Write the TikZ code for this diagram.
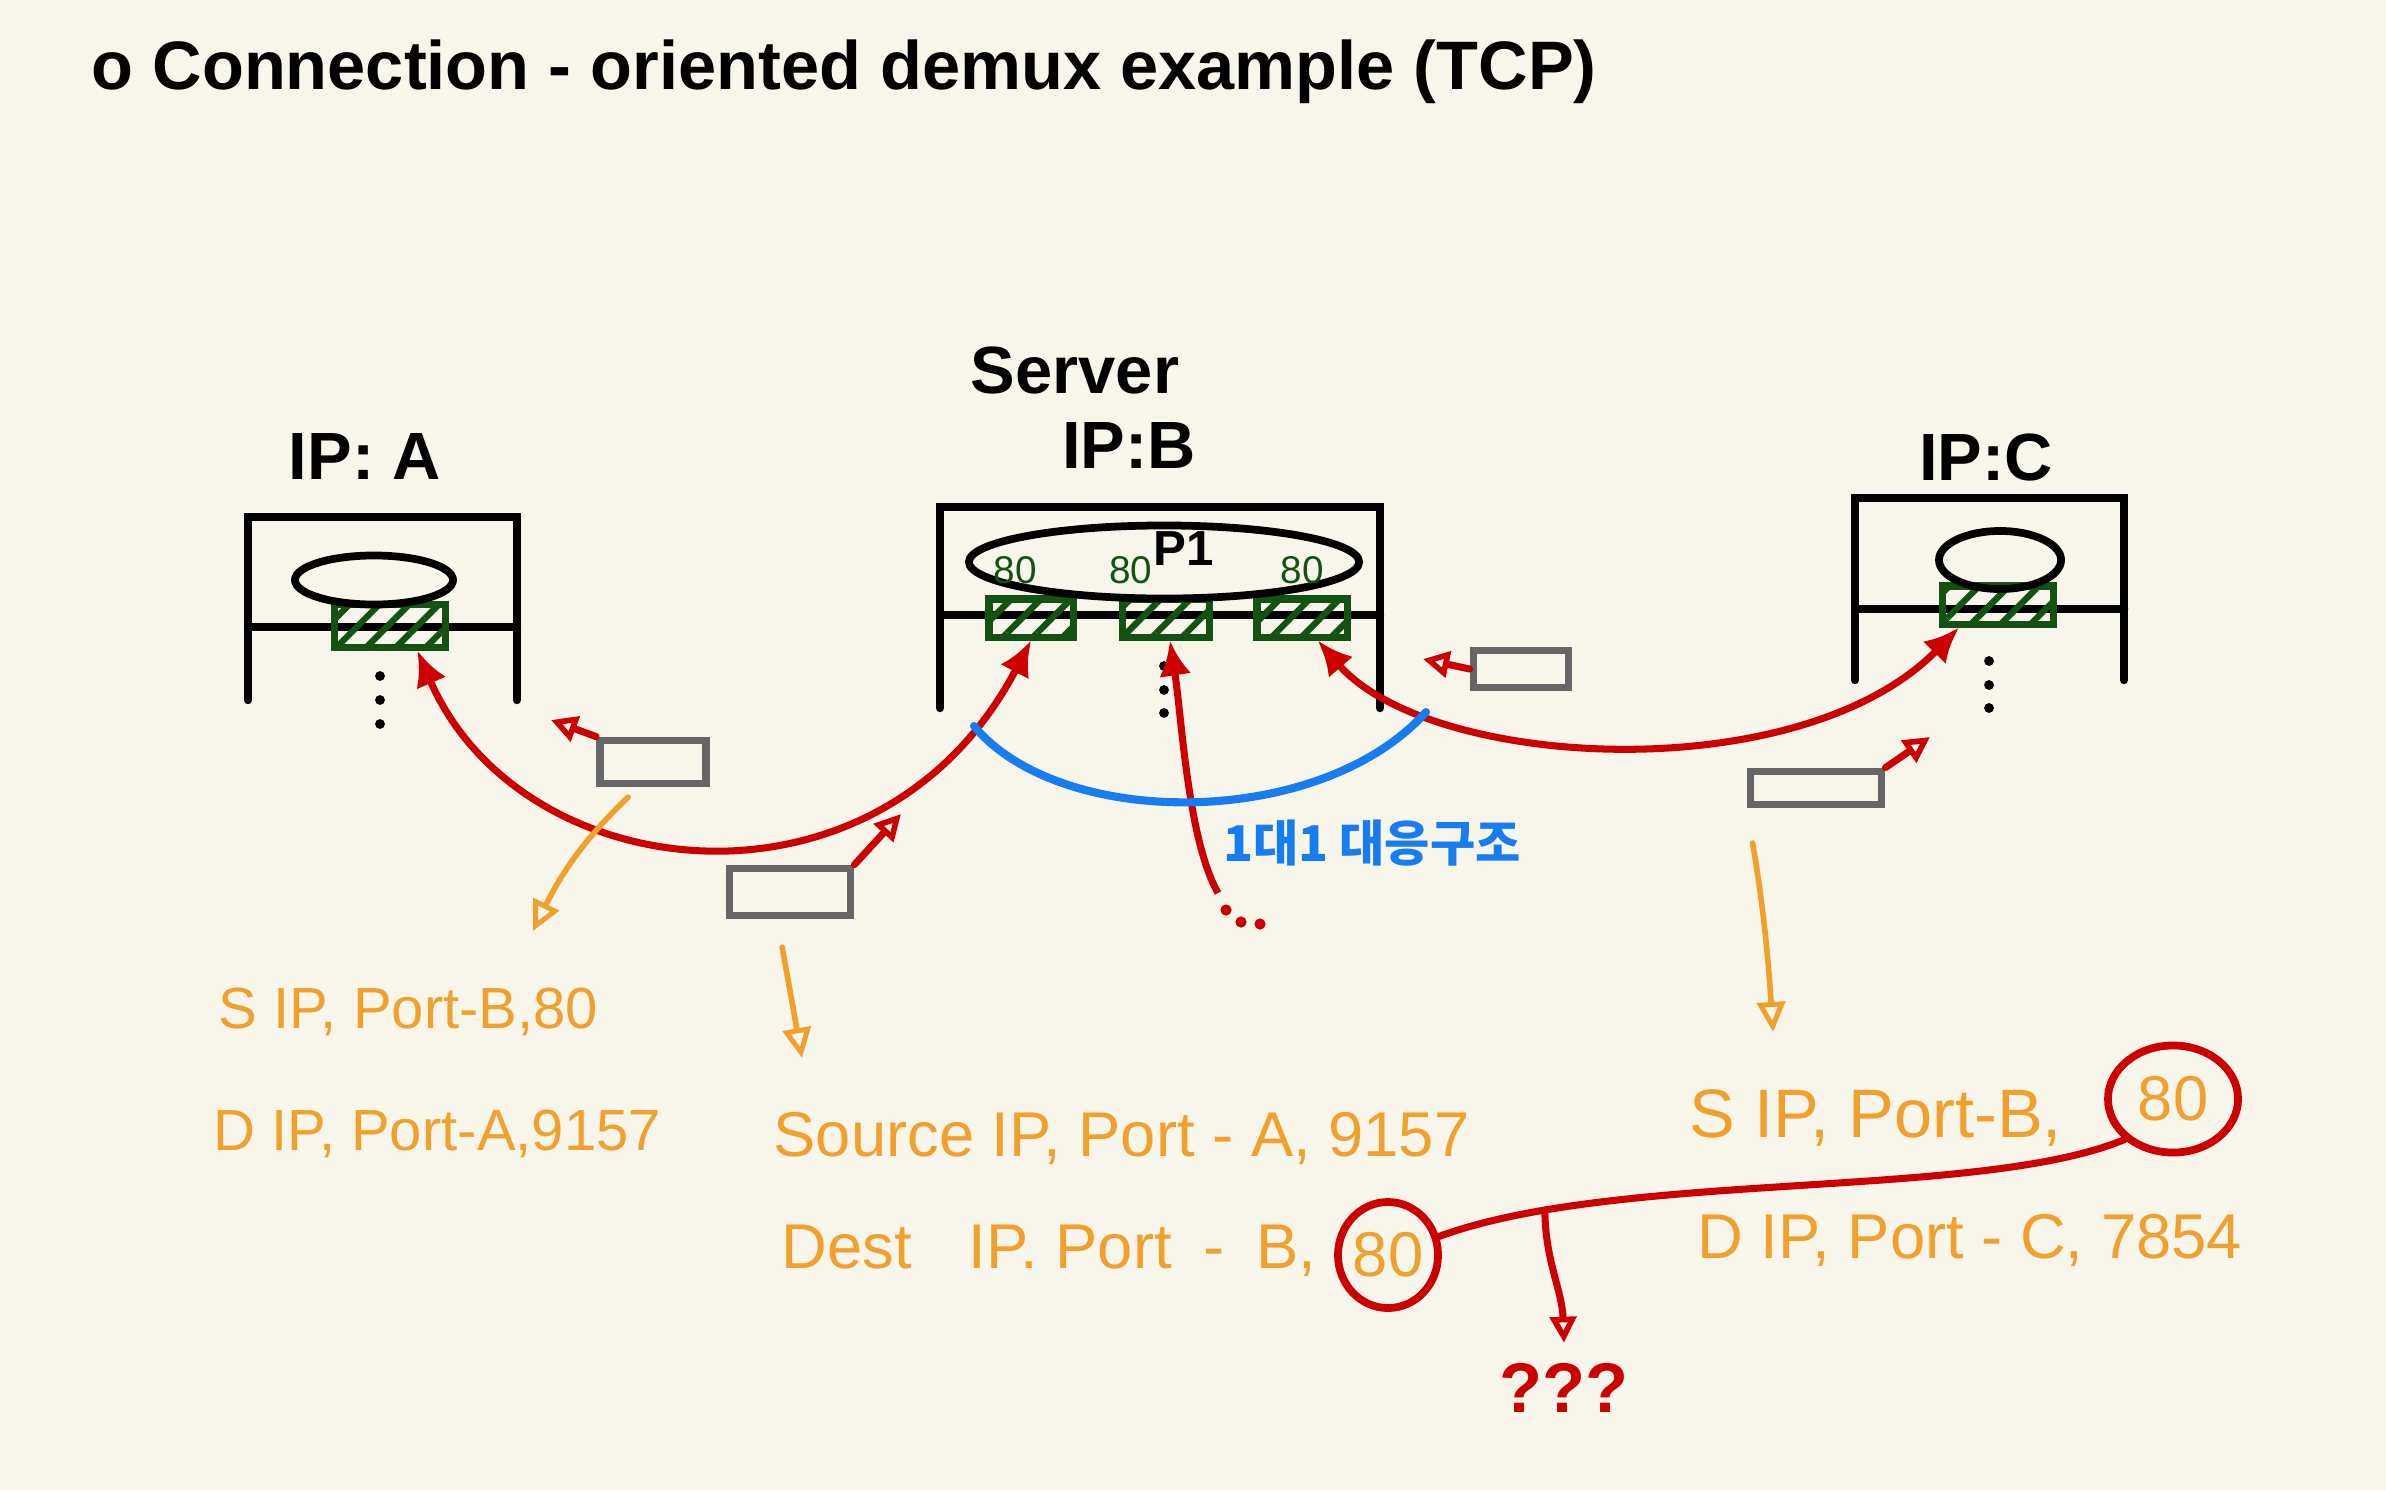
\documentclass[tikz,border=0pt]{standalone}
\usepackage{fontspec}
\setmainfont{Liberation Sans}
\newfontfamily\krfont{Noto Sans CJK KR}
\usetikzlibrary{arrows.meta,positioning,shapes.geometric,patterns.meta}
\definecolor{paper}{RGB}{248,246,234}
\definecolor{inkred}{RGB}{204,0,0}
\definecolor{inkorange}{RGB}{242,160,45}
\definecolor{inkblue}{RGB}{22,124,240}
\definecolor{inkgreen}{RGB}{20,82,20}
\definecolor{inkgray}{RGB}{102,102,102}
\tikzset{
  hostline/.style={
    line width=2.4pt,
    line cap=round,
    draw=black
  },
  procring/.style={
    ellipse,
    draw=black,
    line width=2.2pt,
    inner sep=0pt
  },
  sockbox/.style={
    rectangle,
    draw=inkgreen,
    line width=2pt,
    inner sep=0pt,
    minimum height=0.38cm,
    pattern={Lines[angle=45,distance=6pt,line width=1.8pt]},
    pattern color=inkgreen
  },
  pktbox/.style={
    rectangle,
    draw=inkgray,
    line width=2.2pt,
    inner sep=0pt
  },
  portnum/.style={
    text=inkgreen,
    inner sep=0pt,
    font=\fontsize{11}{13}\selectfont
  },
  hostlabel/.style={
    inner sep=0pt,
    font=\fontsize{19}{23}\selectfont\bfseries
  },
  hdrtext/.style={
    anchor=west,
    inner sep=0pt,
    text=inkorange,
    font=\fontsize{18}{22}\selectfont
  },
  ring80/.style={
    ellipse,
    draw=inkred,
    line width=2.2pt,
    inner sep=0pt,
    text=inkorange,
    font=\fontsize{18}{22}\selectfont
  },
  flowarrow/.style={
    {Latex[length=3.5mm,width=3.2mm]}-{Latex[length=3.5mm,width=3.2mm]},
    line width=2pt,
    draw=inkred
  },
  feedarrow/.style={
    -{Latex[length=3.5mm,width=3.2mm]},
    line width=2pt,
    draw=inkred
  },
  sendarrow/.style={
    -{Triangle[open,length=2.6mm,width=2.6mm,line width=1.6pt]},
    line width=2pt,
    line cap=round,
    draw=inkred
  },
  hintarrow/.style={
    -{Triangle[open,length=3mm,width=2.8mm,line width=1.4pt]},
    line width=1.6pt,
    line cap=round,
    draw=inkorange
  }
}

\begin{document}
\begin{tikzpicture}[x=0.01cm, y=-0.01cm]
\fill[paper] (0,0) rectangle (2386,1491);
\useasboundingbox (0,0) rectangle (2386,1491);

% title
\node[anchor=west, inner sep=0pt, font=\fontsize{19.5}{23}\selectfont\bfseries] (title) at (91,72)
  {o Connection - oriented demux example (TCP)};

% hosts
\draw[hostline] (248,700) -- (248,517) -- (517,517) -- (517,700);
\draw[hostline] (248,627) -- (517,627);
\draw[hostline] (940,708) -- (940,507) -- (1380,507) -- (1380,708);
\draw[hostline] (940,615) -- (1380,615);
\draw[hostline] (1855,680) -- (1855,498) -- (2124,498) -- (2124,680);
\draw[hostline] (1855,609) -- (2124,609);

\node[hostlabel] (labA) at (365,457) {IP: A};
\node[hostlabel] (labSrv) at (1075,370) {Server};
\node[hostlabel] (labB) at (1129,446) {IP:B};
\node[hostlabel] (labC) at (1986,457) {IP:C};

% sockets
\node[sockbox, minimum width=1.11cm, minimum height=0.43cm] (sockA) at (390,626) {};
\node[sockbox, minimum width=0.84cm] (sockB1) at (1031,618) {};
\node[sockbox, minimum width=0.87cm] (sockB2) at (1166,618) {};
\node[sockbox, minimum width=0.90cm] (sockB3) at (1302,618) {};
\node[sockbox, minimum width=1.11cm] (sockC) at (1998,605) {};

% processes
\node[procring, minimum width=1.58cm, minimum height=0.49cm] (procA) at (374,580) {};
\node[procring, minimum width=3.9cm, minimum height=0.73cm] (procB) at (1164,562) {};
\node[procring, minimum width=1.22cm, minimum height=0.58cm] (procC) at (2000,560) {};
\node[inner sep=0pt, font=\fontsize{14}{16}\selectfont\bfseries] (p1) at (1184,549) {P1};

\node[portnum, above=3pt of sockB1, xshift=-0.16cm] (port1) {80};
\node[portnum, above=3pt of sockB2, xshift=-0.35cm] (port2) {80};
\node[portnum, above=3pt of sockB3] (port3) {80};

% dots below sockets
\foreach \px/\py in {380/676, 380/700, 380/724, 1164/666, 1164/690, 1164/713, 1989/661, 1989/685, 1989/708}
  \fill (\px,\py) circle[radius=1.4pt];

% packets
\node[pktbox, minimum width=1.06cm, minimum height=0.43cm] (pktA) at (653,762) {};
\node[pktbox, minimum width=1.21cm, minimum height=0.47cm] (pktB) at (790,892) {};
\node[pktbox, minimum width=0.95cm, minimum height=0.37cm] (pktCB) at (1521,669) {};
\node[pktbox, minimum width=1.31cm, minimum height=0.33cm] (pktC) at (1816,788) {};

\coordinate (toA) at (551,720);
\coordinate (toB) at (901,814);
\coordinate (toCB) at (1423,659);
\coordinate (toC) at (1930,737);
\draw[sendarrow] (pktA.north west) -- (toA);
\draw[sendarrow] (pktB.north east) -- (toB);
\draw[sendarrow] (pktCB.west) -- (toCB);
\draw[sendarrow] (pktC.north east) -- (toC);

% connections
\draw[flowarrow] (sockA.-42) .. controls (520,890) and (880,930) .. (sockB1.south);
\draw[flowarrow] (sockB3.-55) .. controls (1430,770) and (1800,790) .. (sockC.-150);
\coordinate (feed) at (1218,893);
\draw[feedarrow] (feed) .. controls (1188,840) and (1182,720) .. (sockB2.-80);
\foreach \px/\py in {1226/910, 1241/922, 1260/924}
  \fill[inkred] (\px,\py) circle[radius=1.6pt];

% one-to-one
\draw[inkblue, line width=2.3pt, line cap=round] (974,726) .. controls (1060,830) and (1320,830) .. (1426,712);
\node[text=inkblue, inner sep=0pt, font=\krfont\fontsize{14}{17}\selectfont\bfseries] (onetoone) at (1372,843) {1대1 대응구조};

% headers
\node[hdrtext, font=\fontsize{16.5}{20}\selectfont] (hdrAs) at (218,1012) {S IP, Port-B,80};
\node[hdrtext, font=\fontsize{16.5}{20}\selectfont] (hdrAd) at (213,1134) {D IP, Port-A,9157};
\node[hdrtext] (hdrBs) at (773,1138) {Source IP, Port - A, 9157};
\node[hdrtext] (hdrBd) at (781,1251) {Dest\hspace{0.9em}IP. Port\hspace{0.5em}-\hspace{0.5em}B,};
\node[hdrtext, font=\fontsize{19.5}{23}\selectfont] (hdrCs) at (1689,1118) {S IP, Port-B,};
\node[hdrtext] (hdrCd) at (1697,1240) {D IP, Port - C, 7854};
\node[ring80, minimum width=1.0cm, minimum height=1.06cm] (d80) at (1388,1255) {80};
\node[ring80, minimum width=1.3cm, minimum height=1.07cm] (s80) at (2173,1099) {80};

\coordinate (tipA) at (533,931);
\coordinate (tipB) at (802,1058);
\coordinate (tipC) at (1773,1032);
\draw[hintarrow, shorten <=4pt] (pktA.-120) to[bend right=10] (tipA);
\draw[hintarrow, shorten <=8pt] (pktB.-115) -- (tipB);
\draw[hintarrow, shorten <=10pt] (pktC.south west) to[bend left=3] (tipC);

% same port 80
\draw[inkred, line width=2pt, line cap=round] (d80.20) .. controls (1620,1170) and (1980,1200) .. (s80.south west)
  coordinate[pos=0.17] (split);
\node[text=inkred, inner sep=0pt, font=\fontsize{20}{24}\selectfont\bfseries] (qq) at (1564,1388) {???};
\draw[sendarrow] (split) .. controls (1545,1260) and (1562,1290) .. ([yshift=2mm]qq.north);
\end{tikzpicture}
\end{document}
